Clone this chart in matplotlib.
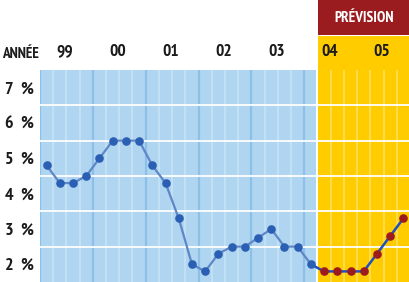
import matplotlib
matplotlib.use("Agg")
import matplotlib.pyplot as plt
from matplotlib.patches import Rectangle

# Quarterly rate, 1999 Q1 .. 2005 Q4 (forecast from 2004 Q2)
rate = [4.8, 4.3, 4.3, 4.5, 5.0, 5.5, 5.5, 5.5,
        4.8, 4.3, 3.3, 2.0, 1.8, 2.3, 2.5, 2.5,
        2.75, 3.0, 2.5, 2.5, 2.0, 1.8, 1.8, 1.8,
        1.8, 2.3, 2.8, 3.3]
years = ["99", "00", "01", "02", "03", "04", "05"]
pct_values = [2, 3, 4, 5, 6, 7]
pct_labels = ["2 %", "3 %", "4 %", "5 %", "6 %", "7 %"]
forecast_from = 21          # index of first forecast quarter
header_text = "PRÉVISION"
axis_title = "ANNÉE"

FONT = ["PT Sans Narrow", "DejaVu Sans"]
TXT = "#1b1b1b"
BLUE_BG = "#afd5f0"
BLUE_YEAR = "#8cc0e8"
BLUE_QTR = "#c6e3f6"
YELLOW = "#ffcc00"
YELLOW_QTR = "#ffe062"
RED = "#9a1c1f"

W, H = 410, 282
fig = plt.figure(figsize=(W / 100, H / 100), dpi=100)
ax = fig.add_axes([40 / W, 0, 370 / W, 212 / H])
n = len(rate)
ax.set_xlim(0, n)
ax.set_ylim(1.5, 7.5)
ax.axis("off")

# panels
ax.add_patch(Rectangle((0, 1.5), forecast_from - 0.12, 6.0, color=BLUE_BG, lw=0, zorder=0))
ax.add_patch(Rectangle((forecast_from + 0.06, 1.5), n - forecast_from, 6.96,
                       color=YELLOW, lw=0, zorder=0, clip_on=False))
ax.add_patch(Rectangle((forecast_from + 0.06, 8.49), n - forecast_from, 1.2,
                       color=RED, lw=0, zorder=0, clip_on=False))
ax.text((forecast_from + n) / 2 + 0.03, 8.98, header_text, color="white",
        fontsize=11, fontweight="bold", family=FONT, ha="center", va="center",
        clip_on=False)

# vertical quarter / year lines
for q in range(0, forecast_from):
    if q % 4 == 0:
        ax.plot([q, q], [1.5, 7.5], color=BLUE_YEAR, lw=1.6, zorder=1)
    else:
        ax.plot([q, q], [1.5, 7.5], color=BLUE_QTR, lw=1.2, zorder=1)
for q in range(forecast_from + 1, n):
    ax.plot([q, q], [1.5, 7.5], color=YELLOW_QTR, lw=1.1, zorder=1)

# horizontal grid
for v in pct_values[:-1]:
    ax.plot([0, n], [v + 0.5, v + 0.5], color="white", lw=1.3, zorder=2)

xs = [i + 0.5 for i in range(n)]
split = forecast_from - 1
ax.plot(xs[:split + 1], rate[:split + 1], color="#5f86c6", lw=1.6, zorder=3)
ax.plot(xs[split:], rate[split:], color="#1f50c0", lw=1.8, zorder=3)
ax.plot(xs[:forecast_from], rate[:forecast_from], "o", color="#2b5fb3",
        ms=6.2, mew=0, zorder=4)
ax.plot(xs[forecast_from:], rate[forecast_from:], "o", color="#9b1b1e",
        ms=6.2, mew=0, zorder=4)

# y labels
for v, lab in zip(pct_values, pct_labels):
    ax.text(-0.5, v - 0.05, lab.replace(" ", "\u2009 "), ha="right", va="center",
            fontsize=13, fontweight="bold", family=FONT, color=TXT, clip_on=False)

# year labels
for i, y in enumerate(years):
    ax.text(4 * i + 1.9, 8.0, y, ha="center", va="center", fontsize=12.5,
            fontweight="bold", family=FONT, color=TXT, clip_on=False)
fig.text(2.5 / W, 1 - 54 / H, axis_title, ha="left", va="center", fontsize=11,
         fontweight="bold", family=FONT, color=TXT)

fig.savefig("out.png", dpi=100)
